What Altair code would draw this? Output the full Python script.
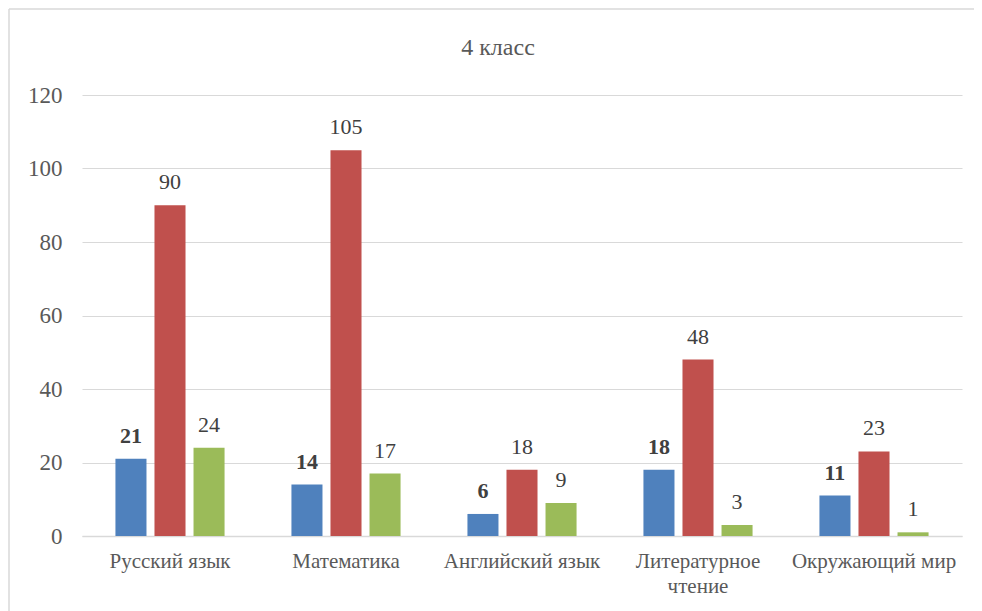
import altair as alt
import pandas as pd

categories = ["Русский язык", "Математика", "Английский язык", "Литературное чтение", "Окружающий мир"]
series_names = ["Ряд1", "Ряд2", "Ряд3"]
s1 = [21, 14, 6, 18, 11]
s2 = [90, 105, 18, 48, 23]
s3 = [24, 17, 9, 3, 1]
colors = ["#4f81bd", "#c0504d", "#9bbb59"]
y_ticks = [0, 20, 40, 60, 80, 100, 120]
subtitle = "4 класс"

rows = []
for i, c in enumerate(categories):
    for sname, vals in zip(series_names, [s1, s2, s3]):
        rows.append({"cat": c, "series": sname, "value": vals[i]})
df = pd.DataFrame(rows)

W, H = 880, 441
FONT = "Liberation Serif"
TXT = "#595959"

x = alt.X(
    "cat:N", sort=categories,
    scale=alt.Scale(paddingInner=0.38, paddingOuter=0.19),
    axis=alt.Axis(
        title=None, labelAngle=0, labelFont=FONT, labelFontSize=21, labelColor=TXT,
        labelPadding=14, ticks=False, domainColor="#d9d9d9", domainWidth=1.5,
        labelLimit=300, labelLineHeight=25,
        labelExpr="datum.label == 'Литературное чтение' ? ['Литературное', 'чтение'] : datum.label",
    ),
)
xo = alt.XOffset("series:N", sort=series_names, scale=alt.Scale(paddingInner=0.205))
y = alt.Y(
    "value:Q", scale=alt.Scale(domain=[0, 120], nice=False),
    axis=alt.Axis(
        values=y_ticks, title=None, grid=True, gridColor="#d9d9d9", gridWidth=1.2,
        domain=False, ticks=False, labelPadding=20, labelFont=FONT, labelFontSize=23,
        labelColor=TXT,
    ),
)
color = alt.Color("series:N", sort=series_names, scale=alt.Scale(domain=series_names, range=colors), legend=None)

base = alt.Chart(df)
bars = base.mark_bar().encode(x=x, xOffset=xo, y=y, color=color)

lab_bold = base.transform_filter(alt.datum.series == "Ряд1").mark_text(
    font=FONT, fontSize=22, fontWeight="bold", color="#404040", dy=-16, baseline="alphabetic"
).encode(x=x, xOffset=xo, y=y, text="value:Q")
lab_norm = base.transform_filter(alt.datum.series != "Ряд1").mark_text(
    font=FONT, fontSize=22, color="#404040", dy=-16, baseline="alphabetic"
).encode(x=x, xOffset=xo, y=y, text="value:Q")

one = alt.Data(values=[{"a": 1}])
frame_top = alt.Chart(one).mark_rule(stroke="#d9d9d9", strokeWidth=1.5).encode(
    x=alt.value(-73), x2=alt.value(W + 100), y=alt.value(-86)
)
frame_left = alt.Chart(one).mark_rule(stroke="#d9d9d9", strokeWidth=1.5).encode(
    x=alt.value(-73), y=alt.value(-86), y2=alt.value(H + 100)
)
sub = alt.Chart(one).mark_text(font=FONT, fontSize=24, color=TXT, baseline="middle").encode(
    x=alt.value(416), y=alt.value(-47), text=alt.value(subtitle)
)

chart = alt.layer(frame_top, frame_left, sub, bars, lab_bold, lab_norm).properties(
    width=W, height=H,
    padding={"left": 74, "top": 87, "right": 12, "bottom": 75},
    autosize="none",
).configure_view(stroke=None)

chart.save("out.html", embed_options={"renderer": "svg", "actions": False})
